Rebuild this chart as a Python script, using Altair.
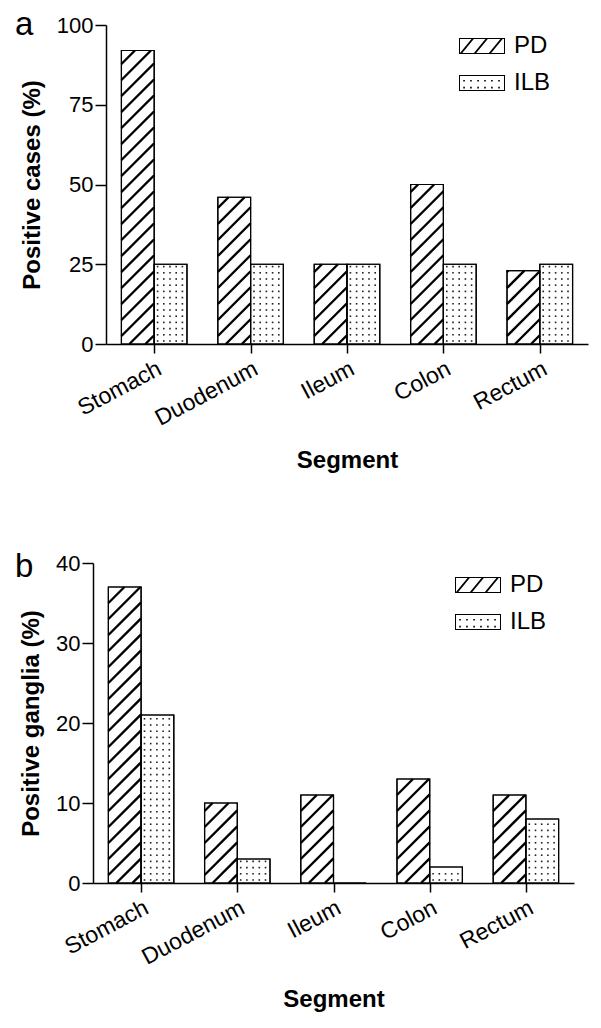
import json
import altair as alt
import pandas as pd

# ---------------- data ----------------
segments = ["Stomach", "Duodenum", "Ileum", "Colon", "Rectum"]
series = ["PD", "ILB"]
pd_cases = [92, 46, 25, 50, 23]
ilb_cases = [25, 25, 25, 25, 25]
pd_ganglia = [37, 10, 11, 13, 11]
ilb_ganglia = [21, 3, 0, 2, 8]
ticks_cases = [0, 25, 50, 75, 100]
ticks_ganglia = [0, 10, 20, 30, 40]

# ---------------- style ----------------
FONT = "Liberation Sans"
BW = 0.34               # bar width in category units
HATCH_SP = 16           # vertical spacing of hatch lines (px)
DOT_SX, DOT_SY = 6.2, 6.2


def f3(v):
    return f"{v:.3f}"


def rect_path(x0, y0, x1, y1, cw=True):
    if cw:
        return f"M{f3(x0)},{f3(y0)}L{f3(x1)},{f3(y0)}L{f3(x1)},{f3(y1)}L{f3(x0)},{f3(y1)}Z"
    return f"M{f3(x0)},{f3(y0)}L{f3(x0)},{f3(y1)}L{f3(x1)},{f3(y1)}L{f3(x1)},{f3(y0)}Z"


HY = 0.348   # half height of legend swatch (units of 23px)
FR = 0.044   # frame thickness
frame = rect_path(-1, -HY, 1, HY, True) + rect_path(-1 + FR, -HY + FR, 1 - FR, HY - FR, False)
hatch_parts = []
for xb in [-0.957, -0.35, 0.30]:
    t = 0.1
    yb, yt = HY - FR, -HY + FR
    hatch_parts.append(
        f"M{f3(xb)},{f3(yb)}L{f3(xb + 0.5)},{f3(yt)}L{f3(xb + 0.5 + t)},{f3(yt)}L{f3(xb + t)},{f3(yb)}Z"
    )
PATH_PD = frame + "".join(hatch_parts)
dot_parts = []
for yy in [-0.10, 0.20]:
    for xx in [-0.78, -0.48, -0.17, 0.13, 0.43, 0.74]:
        dot_parts.append(rect_path(xx - 0.035, yy - 0.035, xx + 0.035, yy + 0.035, True))
PATH_ILB = frame + "".join(dot_parts)


def make_table(pd_vals, ilb_vals):
    rows = []
    for i, seg in enumerate(segments):
        rows.append({"idx": i, "segment": seg, "series": "PD", "value": pd_vals[i]})
        rows.append({"idx": i, "segment": seg, "series": "ILB", "value": ilb_vals[i]})
    return pd.DataFrame(rows)


def panel(pd_vals, ilb_vals, ticks, W, H, xshift, ytitle, letter, letter_x, letter_y,
          leg_x, leg_y):
    ymax = ticks[-1]
    ky = H / ymax
    KX = W / 5.0
    base = alt.Chart(make_table(pd_vals, ilb_vals)).transform_calculate(
        xl=f"datum.series == 'PD' ? datum.idx + 0.5 - {BW} : datum.idx + 0.5"
    ).transform_calculate(
        xr=f"datum.xl + {BW}",
        vp=f"datum.value * {ky}",
        bwp=f"{BW * KX}",
    )
    xs = alt.Scale(domain=[0, 5], nice=False, zero=False, range=[-xshift, W - xshift])
    ys = alt.Scale(domain=[0, ymax], nice=False)
    label_expr = f"{json.dumps(segments)}[floor(datum.value)]"
    x_axis = alt.Axis(
        values=[0.5, 1.5, 2.5, 3.5, 4.5], labelExpr=label_expr, title="Segment",
        labelAngle=-28, labelAlign="right", labelBaseline="top", labelFont=FONT,
        labelFontSize=23, labelColor="black", labelPadding=4, labelOverlap=False,
        titleFont=FONT, titleFontSize=24, titleFontWeight="bold", titleColor="black",
        titlePadding=18, domainColor="black", domainWidth=1.5, tickColor="black",
        tickWidth=1.5, tickSize=9, grid=False,
    )
    y_axis = alt.Axis(
        values=ticks, title=ytitle, labelFont=FONT, labelFontSize=22, labelColor="black",
        labelPadding=2, titleFont=FONT, titleFontSize=24, titleFontWeight="bold",
        titleColor="black", titlePadding=12, domainColor="black", domainWidth=1.5,
        tickColor="black", tickWidth=1.5, tickSize=11, grid=False, offset=xshift,
    )
    bars = base.mark_bar(fill="white", stroke="black", strokeWidth=1.2).encode(
        x=alt.X("xl:Q", scale=xs, axis=x_axis),
        x2="xr:Q",
        y=alt.Y("value:Q", scale=ys, axis=y_axis),
        y2=alt.datum(0),
    )
    hatch = base.transform_filter("datum.series == 'PD'").transform_calculate(
        cs=f"sequence(-40, datum.vp, {HATCH_SP})"
    ).transform_flatten(["cs"], as_=["c"]).transform_calculate(
        ua="max(0, -datum.c)", ub="min(datum.bwp, datum.vp - datum.c)"
    ).transform_filter("datum.ub - datum.ua > 0.5").transform_calculate(
        hx1=f"datum.xl + datum.ua / {KX}",
        hx2=f"datum.xl + datum.ub / {KX}",
        hy1=f"(datum.ua + datum.c) / {ky}",
        hy2=f"(datum.ub + datum.c) / {ky}",
    ).mark_rule(color="black", strokeWidth=2.4).encode(
        x=alt.X("hx1:Q", scale=xs, axis=x_axis),
        x2="hx2:Q",
        y=alt.Y("hy1:Q", scale=ys, axis=y_axis),
        y2="hy2:Q",
    )
    dots = base.transform_filter("datum.series == 'ILB' && datum.value > 0").transform_calculate(
        rs=f"sequence(3, datum.vp - 1, {DOT_SY})"
    ).transform_flatten(["rs"], as_=["r"]).transform_calculate(
        qs=f"sequence(3.4, datum.bwp - 1, {DOT_SX})"
    ).transform_flatten(["qs"], as_=["q"]).transform_calculate(
        dxv=f"datum.xl + datum.q / {KX}", dyv=f"datum.r / {ky}"
    ).mark_square(size=2.6, color="#222222", opacity=1).encode(
        x=alt.X("dxv:Q", scale=xs, axis=x_axis),
        y=alt.Y("dyv:Q", scale=ys, axis=y_axis),
    )
    outline = base.mark_bar(fill="transparent", stroke="black", strokeWidth=1.2).encode(
        x=alt.X("xl:Q", scale=xs, axis=x_axis),
        x2="xr:Q",
        y=alt.Y("value:Q", scale=ys, axis=y_axis),
        y2=alt.datum(0),
    )
    legend_layer = base.transform_filter("false").mark_point(
        filled=True, color="black", strokeWidth=0, opacity=1
    ).encode(
        x=alt.X("xl:Q", scale=xs, axis=x_axis),
        y=alt.Y("value:Q", scale=ys, axis=y_axis),
        shape=alt.Shape(
            "series:N",
            scale=alt.Scale(domain=series, range=[PATH_PD, PATH_ILB]),
            legend=alt.Legend(
                title=None, orient="none", legendX=leg_x, legendY=leg_y, padding=0,
                symbolSize=2116, symbolStrokeWidth=0, symbolFillColor="black",
                symbolOpacity=1, labelFont=FONT, labelFontSize=24, labelColor="black",
                labelOffset=9, rowPadding=2, labelLimit=200,
            ),
        ),
    )
    letter_mark = base.transform_filter("datum.idx == 0 && datum.series == 'PD'").mark_text(
        text=letter, font=FONT, fontSize=33, color="black", align="left",
        baseline="alphabetic",
    ).encode(x=alt.value(letter_x), y=alt.value(letter_y))
    return alt.layer(bars, hatch, dots, outline, legend_layer, letter_mark).properties(
        width=W - xshift, height=H,
    )


panel_a = panel(pd_cases, ilb_cases, ticks_cases, 482, 319, 0, "Positive cases (%)",
                "a", -91, 10, 353, -2)
panel_b = panel(pd_ganglia, ilb_ganglia, ticks_ganglia, 481, 320, 13, "Positive ganglia (%)",
                "b", -91, 14, 349, -1)

chart = alt.vconcat(panel_a, panel_b, spacing=78).resolve_scale(
    shape="independent"
).resolve_legend(shape="independent").configure_view(stroke=None).properties(
    padding={"left": 7, "top": 1, "right": 5, "bottom": 5}
)

chart.save("out.html", embed_options={"renderer": "svg", "actions": False})
